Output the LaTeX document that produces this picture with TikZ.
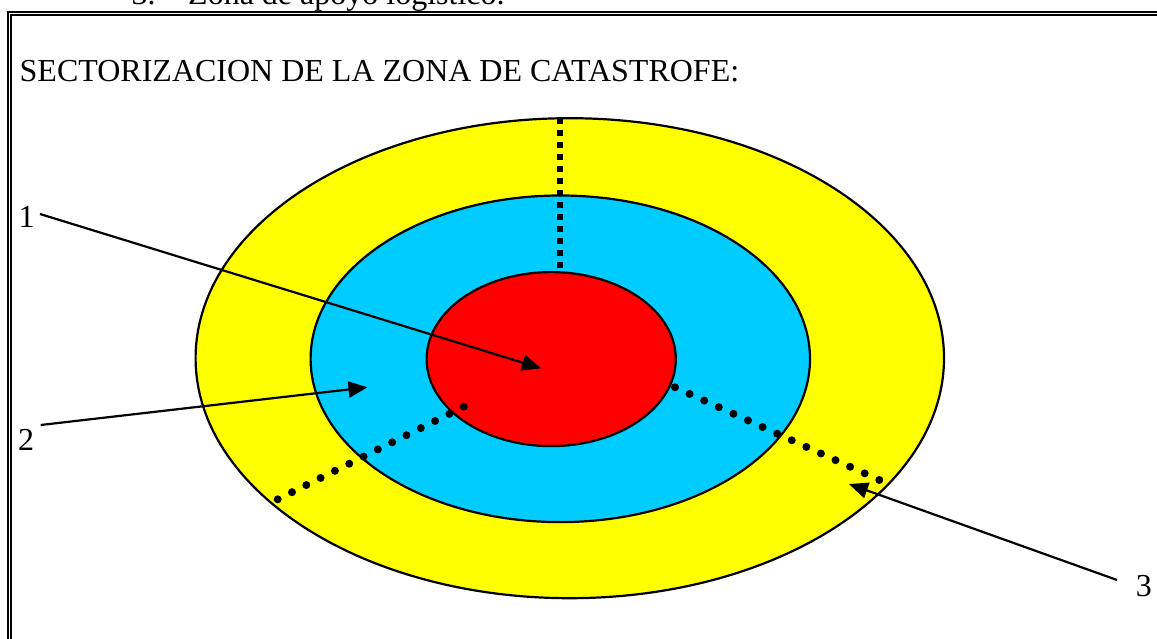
\documentclass[tikz,border=0pt]{standalone}
\usepackage{fontspec}
\setmainfont{Liberation Serif}
\usetikzlibrary{arrows.meta,calc}
\definecolor{zyellow}{HTML}{FFFF00}
\definecolor{zblue}{HTML}{00CCFF}
\definecolor{zred}{HTML}{FF0000}
\tikzset{
  txt/.style={inner sep=0pt, anchor=base west, font=\fontsize{32}{38}\selectfont},
  zone/.style={draw=black, line width=2.2pt},
  dotmark/.style={fill=black},
  squaredots/.style={line width=6pt, dash pattern=on 6pt off 6pt, black},
  pointer/.style={line width=2.2pt, -{Triangle[length=19pt,width=16pt]}},
  frameline/.style={line width=2.2pt}
}
\begin{document}
\begin{tikzpicture}[x=1pt,y=-1pt]
\useasboundingbox (0,0) rectangle (1157,639);
\clip (0,0) rectangle (1157,639);
\fill[white] (0,0) rectangle (1157,639);
% heading cut off at the top
\node[txt] (num) at (131.5,5) {3.};
\node[txt] (head) at (188,5) {Zona de apoyo logístico.};
% double frame
\draw[frameline] (7.7,650) -- (7.7,12) -- (1170,12);
\draw[frameline] (11.2,650) -- (11.2,15.3) -- (1170,15.3);
% title
\node[txt] (title) at (19.5,82) {SECTORIZACION DE LA ZONA DE CATASTROFE:};
% zones
\draw[zone, fill=zyellow] (569.8,358.2) ellipse [x radius=374.2, y radius=240];
\draw[zone, fill=zblue] (560.3,358.8) ellipse [x radius=249.7, y radius=163.3];
\draw[zone, fill=zred] (551.2,359.1) ellipse [x radius=124.6, y radius=87];
% sector boundaries
\coordinate (va) at (560,118);
\coordinate (vb) at (560,268);
\draw[squaredots] (va) -- (vb);
\coordinate (la) at (463.7,406.7);
\coordinate (lb) at (277.7,499.3);
\foreach \i in {0,...,13} \fill[dotmark] ($(la)!\i/13!(lb)$) circle [radius=4];
\coordinate (ra) at (675,387.3);
\coordinate (rb) at (879.3,480);
\foreach \i in {0,...,14} \fill[dotmark] ($(ra)!\i/14!(rb)$) circle [radius=4];
% labels and pointers
\node[txt] (l1) at (18.5,228) {1};
\node[txt] (l2) at (18,450) {2};
\node[txt] (l3) at (1135.6,596.5) {3};
\coordinate (s1) at (40,214);
\coordinate (t1) at (541,368.3);
\coordinate (s2) at (40.7,425);
\coordinate (t2) at (367.5,387.3);
\coordinate (s3) at (1117,580);
\coordinate (t3) at (849,484);
\draw[pointer] (s1) -- (t1);
\draw[pointer] (s2) -- (t2);
\draw[pointer] (s3) -- (t3);
\end{tikzpicture}
\end{document}
